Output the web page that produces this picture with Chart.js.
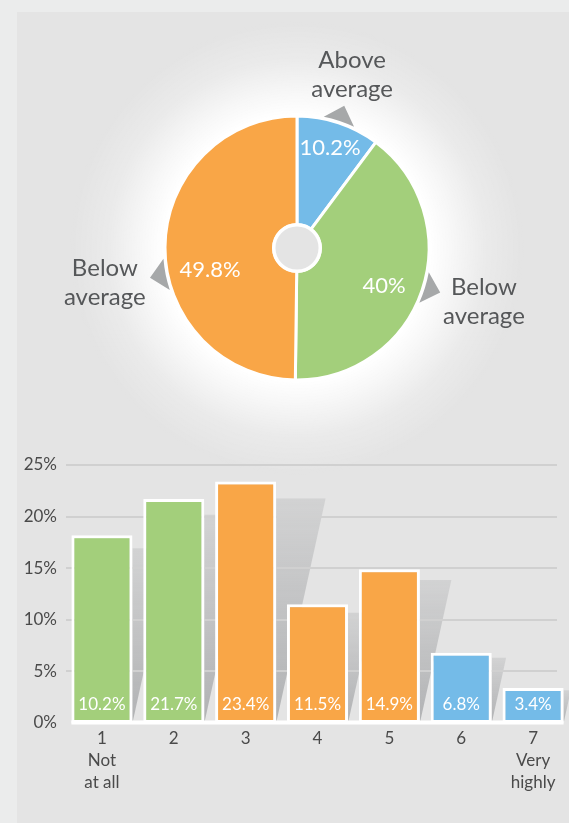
<!DOCTYPE html>
<html><head><meta charset="utf-8">
<script src="https://cdn.jsdelivr.net/npm/chart.js@4.4.0/dist/chart.umd.min.js"></script>
<style>
html,body{margin:0;padding:0;background:#ebecec;}
body{width:569px;height:823px;position:relative;overflow:hidden;}
#panel{position:absolute;left:17px;top:12px;right:0;bottom:0;background:#e4e4e4;}
#pieCanvas{position:absolute;left:17px;top:12px;}
#barCanvas{position:absolute;left:0;top:440px;}
</style></head>
<body>
<div id="panel"></div>
<canvas id="pieCanvas" width="552" height="470"></canvas>
<canvas id="barCanvas" width="569" height="370"></canvas>
<script>
// ---- data ----
const pieLabels = ['Above average', 'Below average', 'Below average'];
const pieValues = [10.2, 40, 49.8];
const barCategories = [['1', 'Not', 'at all'], ['2'], ['3'], ['4'], ['5'], ['6'], ['7', 'Very', 'highly']];
const barValues = [18.2, 21.7, 23.4, 11.5, 14.9, 6.8, 3.4];
const barValueLabels = ['10.2%', '21.7%', '23.4%', '11.5%', '14.9%', '6.8%', '3.4%'];
const yTickValues = [0, 5, 10, 15, 20, 25];

// ---- styles ----
const BLUE = '#74bbe8', GREEN = '#a3cf7b', ORANGE = '#f9a647';
const pieColors = [BLUE, GREEN, ORANGE];
const barColors = [GREEN, GREEN, ORANGE, ORANGE, ORANGE, BLUE, BLUE];
const FONT = 'Lato, "Open Sans", sans-serif';
const TEXT = '#555759';

// label placement (fractions of slice angle / outer radius)
const valueLabelFrac = [0.5, 0.534, 0.419];
const valueLabelRad = [0.795, 0.72, 0.68];
const arrowFrac = [0.5, 0.49, 0.434];
const outerLabelFrac = [0.48, 0.481, 0.44];
const outerLabelRad = [1.379, 1.473, 1.48];

const piePlugin = {
  id: 'piePlugin',
  beforeDraw(chart) {
    const arc = chart.getDatasetMeta(0).data[0];
    if (!arc) return;
    const ctx = chart.ctx, cx = arc.x, cy = arc.y, R = arc.outerRadius;
    const outer = R * 1.72;
    const g = ctx.createRadialGradient(cx, cy, 0, cx, cy, outer);
    const s = R / outer;
    g.addColorStop(0, 'rgba(255,255,255,1)');
    g.addColorStop(s, 'rgba(255,255,255,1)');
    g.addColorStop(s + (1 - s) * 0.25, 'rgba(255,255,255,0.7)');
    g.addColorStop(s + (1 - s) * 0.6, 'rgba(255,255,255,0.25)');
    g.addColorStop(1, 'rgba(255,255,255,0)');
    ctx.save();
    ctx.fillStyle = g;
    ctx.beginPath(); ctx.arc(cx, cy, outer, 0, Math.PI * 2); ctx.fill();
    ctx.restore();
  },
  afterDraw(chart) {
    const meta = chart.getDatasetMeta(0);
    const ctx = chart.ctx;
    const a0 = meta.data[0];
    const cx = a0.x, cy = a0.y, R = a0.outerRadius;
    ctx.save();
    // centre hole
    ctx.beginPath(); ctx.arc(cx, cy, a0.innerRadius, 0, Math.PI * 2);
    ctx.fillStyle = '#e4e4e4'; ctx.fill();
    ctx.lineWidth = 3.5; ctx.strokeStyle = '#ffffff'; ctx.stroke();

    meta.data.forEach((arc, i) => {
      const span = arc.endAngle - arc.startAngle;
      // value labels
      let a = arc.startAngle + span * valueLabelFrac[i];
      let r = R * valueLabelRad[i];
      ctx.fillStyle = '#ffffff';
      ctx.font = '22px ' + FONT;
      ctx.textAlign = 'center'; ctx.textBaseline = 'middle';
      ctx.fillText(pieValues[i] + '%', cx + Math.cos(a) * r, cy + Math.sin(a) * r);
      // arrows
      a = arrowFrac[i] * span + arc.startAngle;
      const rb = R + 2, ra = R + 18, hw = 16 / rb;
      ctx.fillStyle = '#a6a8a9';
      ctx.beginPath();
      ctx.moveTo(cx + Math.cos(a - hw) * rb, cy + Math.sin(a - hw) * rb);
      ctx.lineTo(cx + Math.cos(a) * ra, cy + Math.sin(a) * ra);
      ctx.lineTo(cx + Math.cos(a + hw) * rb, cy + Math.sin(a + hw) * rb);
      ctx.arc(cx, cy, rb, a + hw, a - hw, true);
      ctx.closePath(); ctx.fill();
      // outer labels
      a = arc.startAngle + span * outerLabelFrac[i];
      const ro = R * outerLabelRad[i];
      const lx = cx + Math.cos(a) * ro, ly = cy + Math.sin(a) * ro;
      const words = pieLabels[i].split(' ');
      ctx.fillStyle = TEXT;
      ctx.font = '24px ' + FONT;
      ctx.fillText(words[0], lx, ly - 14.5);
      ctx.fillText(words[1], lx, ly + 14.5);
    });
    ctx.restore();
  }
};

new Chart(document.getElementById('pieCanvas'), {
  type: 'doughnut',
  data: {
    labels: pieLabels,
    datasets: [{
      data: pieValues,
      backgroundColor: pieColors,
      borderColor: '#ffffff',
      borderWidth: 3,
      radius: 132,
      cutout: 23
    }]
  },
  options: {
    responsive: false,
    animation: false,
    events: [],
    layout: { padding: { left: 148, right: 140, top: 104, bottom: 102 } },
    plugins: { legend: { display: false }, tooltip: { enabled: false } }
  },
  plugins: [piePlugin]
});

const barPlugin = {
  id: 'barPlugin',
  beforeDatasetsDraw(chart) {
    const ctx = chart.ctx;
    const meta = chart.getDatasetMeta(0);
    const yS = chart.scales.y, area = chart.chartArea;
    ctx.save();
    // shadows
    meta.data.forEach(bar => {
      const right = bar.x + bar.width / 2;
      const h = (bar.base - bar.y) * 0.93;
      const top = bar.base - h;
      const w = h * 0.22;
      const g = ctx.createLinearGradient(0, top, 0, bar.base);
      g.addColorStop(0, 'rgba(140,142,145,0.2)');
      g.addColorStop(1, 'rgba(140,142,145,0.58)');
      ctx.fillStyle = g;
      ctx.beginPath();
      ctx.moveTo(right, top);
      ctx.lineTo(right + w, top);
      ctx.lineTo(right, bar.base);
      ctx.closePath(); ctx.fill();
    });
    // gridlines
    ctx.strokeStyle = '#d0d0d0';
    ctx.lineWidth = 2;
    yTickValues.forEach(v => {
      if (v === 0) return;
      const y = Math.round(yS.getPixelForValue(v));
      ctx.beginPath();
      ctx.moveTo(area.left, y); ctx.lineTo(area.right - 12, y);
      ctx.stroke();
    });
    ctx.restore();
  },
  afterDatasetsDraw(chart) {
    const ctx = chart.ctx;
    const bars = chart.getDatasetMeta(0).data;
    const first = bars[0], last = bars[bars.length - 1];
    ctx.save();
    ctx.strokeStyle = '#ffffff';
    ctx.lineWidth = 4;
    ctx.beginPath();
    ctx.moveTo(first.x - first.width / 2, first.base - 0.5);
    ctx.lineTo(last.x + last.width / 2, last.base - 0.5);
    ctx.stroke();
    ctx.fillStyle = '#ffffff';
    ctx.font = '17px ' + FONT;
    ctx.textAlign = 'center'; ctx.textBaseline = 'middle';
    bars.forEach((bar, i) => {
      ctx.fillText(barValueLabels[i], bar.x, bar.base - 18);
    });
    ctx.restore();
  }
};

new Chart(document.getElementById('barCanvas'), {
  type: 'bar',
  data: {
    labels: barCategories,
    datasets: [{
      data: barValues,
      backgroundColor: barColors,
      borderColor: '#ffffff',
      borderWidth: 3,
      borderSkipped: false,
      categoryPercentage: 1,
      barPercentage: 0.85
    }]
  },
  options: {
    responsive: false,
    animation: false,
    events: [],
    layout: { padding: { top: 25, left: 0, right: 0, bottom: 0 } },
    plugins: { legend: { display: false }, tooltip: { enabled: false } },
    scales: {
      y: {
        min: 0, max: 25,
        afterFit(s) { s.width = 66; },
        afterBuildTicks(s) { s.ticks = yTickValues.map(v => ({ value: v })); },
        ticks: { callback: v => v + '%', color: '#4a4a4a', font: { size: 17, family: FONT }, padding: 9 },
        grid: { display: false, drawTicks: false },
        border: { display: false }
      },
      x: {
        afterFit(s) { s.height = 87; },
        grid: { display: false, drawTicks: false },
        border: { display: false },
        ticks: { color: '#4a4a4a', font: { size: 17, family: FONT, lineHeight: 1.3 }, padding: 4, maxRotation: 0, autoSkip: false }
      }
    }
  },
  plugins: [barPlugin]
});
</script>
</body></html>
